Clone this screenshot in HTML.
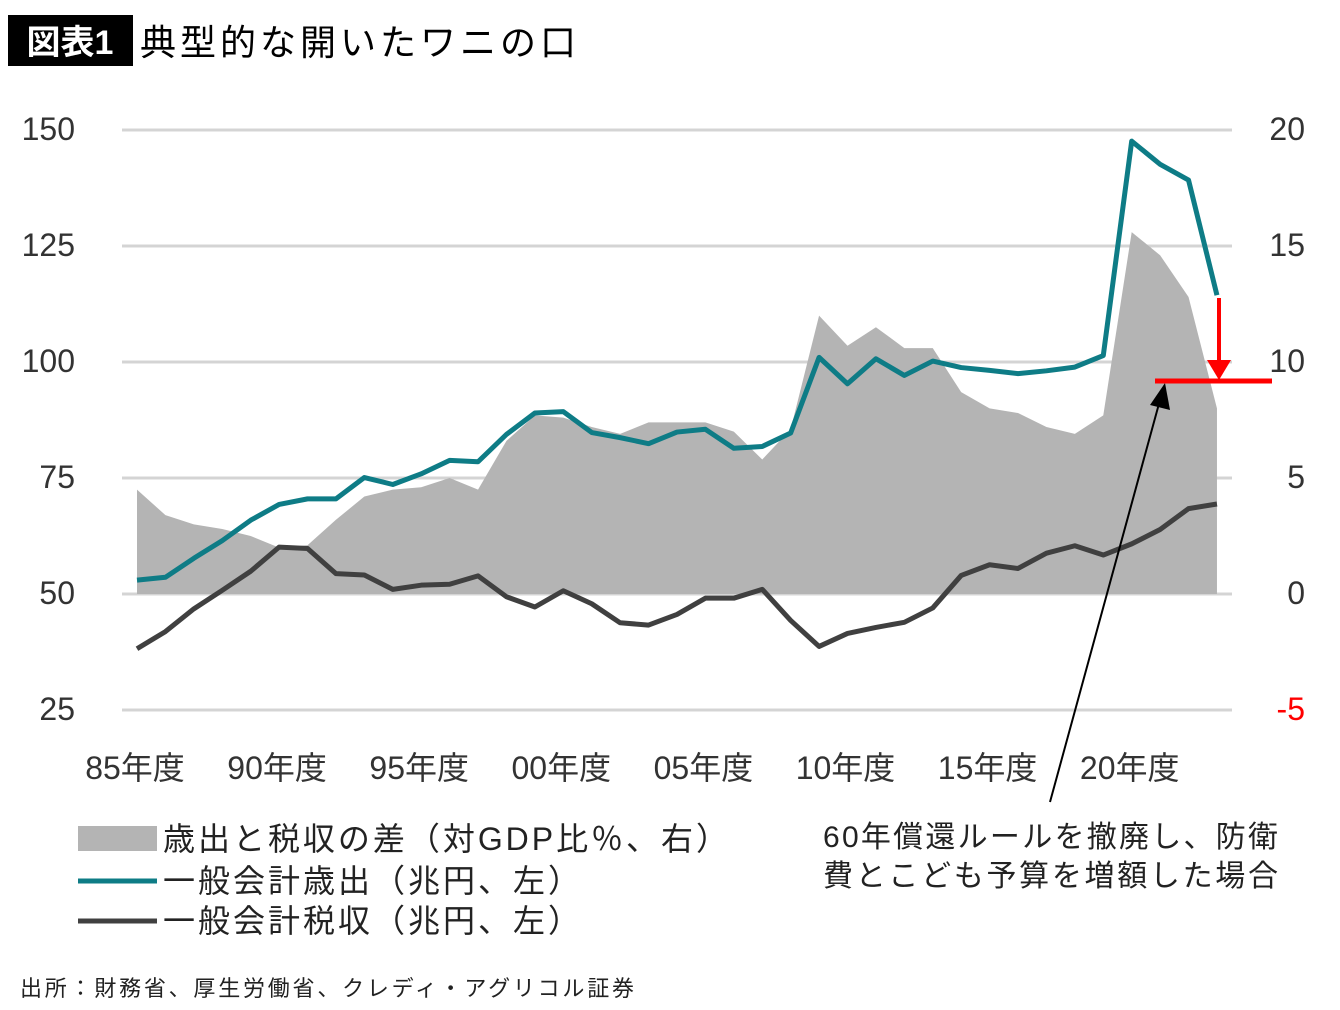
<!DOCTYPE html>
<html><head><meta charset="utf-8"><style>
body{margin:0;background:#fff;}
svg{display:block;font-family:"Liberation Sans","Noto Sans CJK JP",sans-serif;}
</style></head><body>
<svg id="chart" width="1340" height="1010" viewBox="0 0 1340 1010">
<rect x="8" y="15" width="125" height="51" fill="#000"/>
<text x="70" y="54" fill="#fff" font-size="34" font-weight="bold" text-anchor="middle">図表1</text>
<text x="140" y="55" font-size="36" fill="#000" textLength="436">典型的な開いたワニの口</text>
<g id="grid"></g><g id="area"></g><g id="lines"></g><g id="axes"></g>
<g>
<rect x="78" y="826" width="79" height="25" fill="#b4b4b4"/>
<text x="163" y="850" font-size="32" fill="#222" textLength="565">歳出と税収の差（対GDP比％、右）</text>
<line x1="78" y1="881" x2="157" y2="881" stroke="#0e7c86" stroke-width="5"/>
<text x="163" y="892" font-size="32" fill="#222" textLength="417">一般会計歳出（兆円、左）</text>
<line x1="78" y1="921" x2="157" y2="921" stroke="#404040" stroke-width="5"/>
<text x="163" y="932" font-size="32" fill="#222" textLength="417">一般会計税収（兆円、左）</text>
</g>
<text x="823" y="847" font-size="30" fill="#222" textLength="455">60年償還ルールを撤廃し、防衛</text>
<text x="823" y="886" font-size="30" fill="#222" textLength="455">費とこども予算を増額した場合</text>
<text x="20" y="996" font-size="22" fill="#222" textLength="614">出所：財務省、厚生労働省、クレディ・アグリコル証券</text>
<line x1="1050" y1="802" x2="1160" y2="400" stroke="#000" stroke-width="2"/>
<polygon points="1165,383 1150,405 1170,410" fill="#000"/>
<line x1="1219" y1="298" x2="1219" y2="362" stroke="#f00" stroke-width="4"/>
<polygon points="1207,360 1231,360 1219,380" fill="#f00"/>
<line x1="1155" y1="381" x2="1272" y2="381" stroke="#f00" stroke-width="5"/>
</svg>
<script>
const years = [1985,1986,1987,1988,1989,1990,1991,1992,1993,1994,1995,1996,1997,1998,1999,2000,2001,2002,2003,2004,2005,2006,2007,2008,2009,2010,2011,2012,2013,2014,2015,2016,2017,2018,2019,2020,2021,2022,2023];
const expenditure = [53.0,53.6,57.7,61.5,65.9,69.3,70.5,70.5,75.1,73.6,75.9,78.8,78.5,84.4,89.0,89.3,84.8,83.7,82.4,84.9,85.5,81.4,81.8,84.7,101.0,95.3,100.7,97.1,100.2,98.8,98.2,97.5,98.1,98.9,101.4,147.6,142.6,139.2,114.4];
const revenue = [38.2,41.9,46.8,50.8,54.9,60.1,59.8,54.4,54.1,51.0,51.9,52.1,53.9,49.4,47.2,50.7,47.9,43.8,43.3,45.6,49.1,49.1,51.0,44.3,38.7,41.5,42.8,43.9,47.0,54.0,56.3,55.5,58.8,60.4,58.4,60.8,63.9,68.4,69.4];
const gapPct = [4.5,3.4,3.0,2.8,2.5,2.0,2.1,3.2,4.2,4.5,4.6,5.0,4.5,6.6,7.7,7.6,7.2,6.9,7.4,7.4,7.4,7.0,5.8,7.1,12.0,10.7,11.5,10.6,10.6,8.7,8.0,7.8,7.2,6.9,7.7,15.6,14.6,12.8,8.0];
const leftTicks = [150,125,100,75,50,25];
const rightTicks = ["20","15","10","5","0","-5"];
const xLabels = ["85年度","90年度","95年度","00年度","05年度","10年度","15年度","20年度"];
const NS="http://www.w3.org/2000/svg";
const x = y => 137 + (y-1985)*28.42;
const yL = v => 130 + (150-v)/25*116;
const yR = v => 594 - v*23.2;
function mk(t,a,p){const e=document.createElementNS(NS,t);for(const k in a)e.setAttribute(k,a[k]);p.appendChild(e);return e;}
const grid=document.getElementById('grid'),area=document.getElementById('area'),lines=document.getElementById('lines'),axes=document.getElementById('axes');
leftTicks.forEach((t,i)=>{
  const yy=yL(t);
  const g=mk('line',{x1:122,x2:1232,y1:yy,y2:yy,stroke:'#d4d4d4','stroke-width':3},grid);
  
  
  const l=mk('text',{x:75,y:yy+10,'font-size':32,fill:'#333','text-anchor':'end'},axes);
  l.textContent=t;
  
  
  const r=mk('text',{x:1305,y:yy+10,'font-size':32,fill:rightTicks[i].startsWith('-')?'#f00':'#333','text-anchor':'end'},axes);
  r.textContent=rightTicks[i];
  
  
});
xLabels.forEach((s,i)=>{
  const t=mk('text',{x:x(1985+i*5)-2,y:779,'font-size':32,fill:'#333','text-anchor':'middle'},axes);
  t.textContent=s;
  
  
});
let d='M'+x(years[0])+','+yR(0);
years.forEach((y,i)=>{d+=' L'+x(y)+','+yR(gapPct[i]);});
d+=' L'+x(years[years.length-1])+','+yR(0)+' Z';
const a=mk('path',{d:d,fill:'#b4b4b4'},area);


function line(vals,color,name){
  const p=mk('polyline',{points:years.map((y,i)=>x(y)+','+yL(vals[i])).join(' '),fill:'none',stroke:color,'stroke-width':5,'stroke-linejoin':'round'},lines);
  
  
}
line(expenditure,'#0e7c86','expenditure-line');
line(revenue,'#404040','revenue-line');
</script>
</body></html>
